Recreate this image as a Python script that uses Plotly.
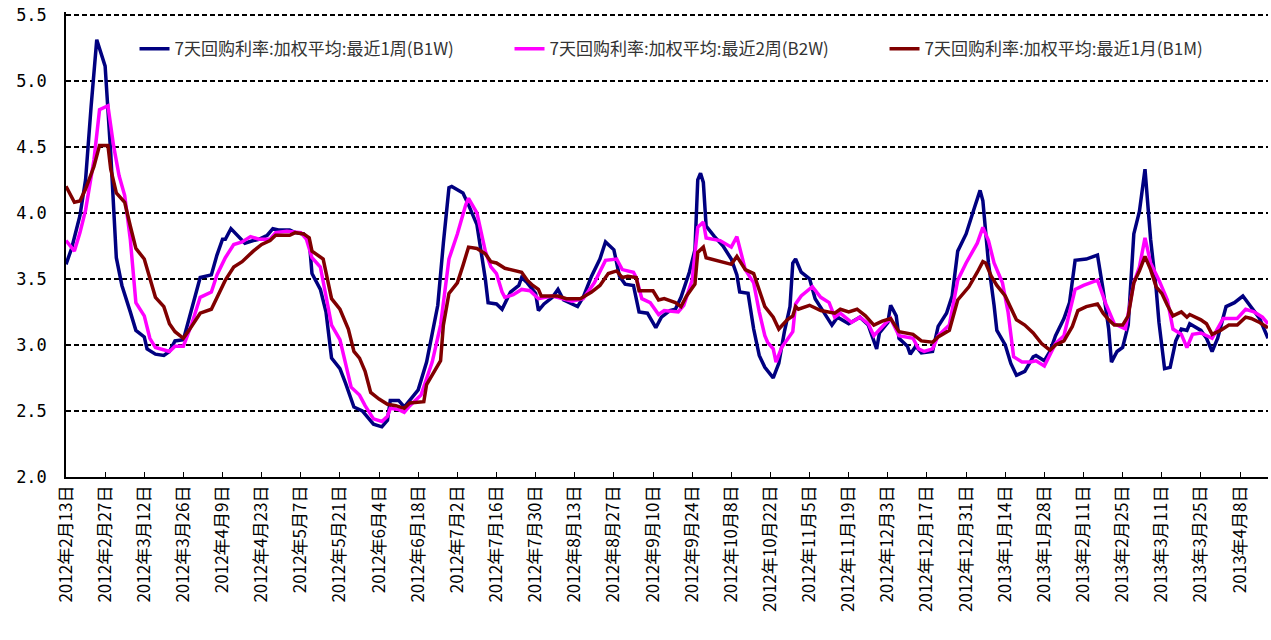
import plotly.graph_objs as go
import pandas as pd

start = pd.Timestamp("2012-02-13")

# days since 2012-02-13 / rate values
b1w_day = [0, 2, 5, 7, 9, 11, 14, 16, 18, 20, 23, 25, 28, 29, 32, 35, 37, 39, 42, 44, 46, 48,
           52, 54, 56, 57, 59, 62, 64, 67, 69, 72, 74, 76, 80, 82, 85, 87, 88, 91, 93, 95, 98,
           100, 103, 106, 110, 113, 115, 116, 119, 121, 123, 126, 129, 133, 135, 137, 138, 142,
           144, 147, 150, 151, 154, 156, 159, 162, 163, 165, 168, 169, 171, 174, 176, 178, 183,
           185, 188, 191, 193, 196, 198, 200, 203, 205, 208, 211, 213, 216, 218, 220, 223, 225,
           226, 227, 228, 229, 232, 235, 238, 240, 241, 244, 246, 248, 250, 253, 255, 257, 259,
           260, 261, 263, 266, 268, 271, 274, 276, 280, 284, 287, 290, 291, 294, 295, 297, 298,
           301, 302, 304, 306, 310, 312, 315, 317, 319, 322, 325, 327, 328, 330, 332, 333, 336,
           338, 340, 343, 346, 347, 350, 352, 354, 357, 359, 361, 365, 369, 371, 373, 374, 376,
           378, 380, 382, 384, 386, 388, 390, 391, 393, 395, 397, 399, 401, 402, 406, 408, 410,
           412, 415, 418, 421, 424, 427, 430]
b1w = [3.61, 3.73, 3.98, 4.25, 4.81, 5.31, 5.11, 4.45, 3.66, 3.45, 3.25, 3.11, 3.06, 2.97, 2.93,
       2.92, 2.95, 3.03, 3.04, 3.20, 3.35, 3.51, 3.53, 3.68, 3.80, 3.80, 3.88, 3.81, 3.77, 3.79,
       3.80, 3.83, 3.88, 3.87, 3.87, 3.85, 3.84, 3.79, 3.54, 3.42, 3.25, 2.90, 2.82, 2.71, 2.53,
       2.50, 2.40, 2.38, 2.43, 2.58, 2.58, 2.53, 2.58, 2.66, 2.87, 3.30, 3.77, 4.19, 4.20, 4.15,
       4.06, 3.91, 3.50, 3.32, 3.31, 3.27, 3.40, 3.45, 3.51, 3.47, 3.39, 3.26, 3.31, 3.36, 3.42,
       3.34, 3.29, 3.36, 3.52, 3.65, 3.78, 3.72, 3.52, 3.46, 3.45, 3.25, 3.24, 3.13, 3.21, 3.26,
       3.27, 3.36, 3.55, 3.72, 4.25, 4.30, 4.23, 3.90, 3.82, 3.75, 3.65, 3.53, 3.40, 3.39, 3.12,
       2.92, 2.83, 2.75, 2.86, 3.10, 3.29, 3.62, 3.65, 3.55, 3.50, 3.35, 3.25, 3.15, 3.21, 3.16,
       3.21, 3.15, 2.97, 3.09, 3.17, 3.30, 3.22, 3.05, 2.99, 2.93, 2.99, 2.94, 2.95, 3.14, 3.24,
       3.37, 3.71, 3.84, 4.04, 4.17, 4.09, 3.62, 3.30, 3.11, 3.00, 2.86, 2.77, 2.80, 2.91, 2.92,
       2.88, 2.95, 3.07, 3.20, 3.32, 3.64, 3.65, 3.68, 3.42, 3.12, 2.87, 2.95, 2.98, 3.15, 3.84,
       4.01, 4.33, 3.80, 3.42, 3.17, 2.82, 2.83, 3.03, 3.12, 3.11, 3.16, 3.11, 3.05, 2.95, 3.05,
       3.29, 3.32, 3.37, 3.29, 3.20, 3.05]

b2w_day = [0, 3, 5, 7, 10, 12, 15, 17, 19, 21, 23, 25, 28, 30, 32, 35, 37, 39, 42, 45, 48, 52,
           54, 57, 60, 63, 66, 69, 73, 75, 79, 84, 86, 88, 91, 93, 95, 98, 100, 102, 105, 107,
           110, 113, 115, 116, 119, 121, 123, 127, 131, 134, 137, 140, 143, 144, 147, 150, 152,
           154, 156, 157, 160, 163, 166, 169, 174, 178, 181, 185, 189, 193, 197, 199, 203, 204,
           206, 209, 212, 214, 219, 221, 224, 226, 228, 229, 234, 238, 240, 243, 246, 248, 250,
           251, 253, 254, 256, 260, 261, 263, 267, 270, 273, 275, 277, 281, 284, 287, 289, 293,
           295, 298, 303, 305, 307, 310, 312, 316, 319, 322, 326, 328, 330, 332, 335, 337, 339,
           342, 345, 347, 350, 354, 357, 361, 364, 369, 372, 375, 379, 382, 384, 386, 388, 391,
           394, 396, 399, 401, 403, 406, 408, 410, 414, 419, 422, 425, 428, 430]
b2w = [3.79, 3.71, 3.85, 4.02, 4.40, 4.78, 4.81, 4.51, 4.28, 4.13, 3.80, 3.32, 3.22, 3.05, 2.98,
       2.96, 2.95, 2.99, 2.99, 3.16, 3.36, 3.40, 3.53, 3.66, 3.76, 3.78, 3.82, 3.80, 3.80, 3.85,
       3.86, 3.85, 3.80, 3.66, 3.59, 3.37, 3.15, 3.04, 2.87, 2.68, 2.62, 2.54, 2.44, 2.42, 2.46,
       2.52, 2.51, 2.49, 2.54, 2.62, 2.87, 3.15, 3.65, 3.84, 4.06, 4.11, 4.00, 3.71, 3.59, 3.54,
       3.40, 3.36, 3.38, 3.42, 3.41, 3.35, 3.37, 3.35, 3.33, 3.35, 3.47, 3.64, 3.65, 3.57, 3.55,
       3.51, 3.35, 3.32, 3.23, 3.26, 3.25, 3.30, 3.49, 3.89, 3.93, 3.81, 3.79, 3.74, 3.82, 3.57,
       3.47, 3.25, 3.07, 3.02, 2.97, 2.87, 2.98, 3.10, 3.31, 3.37, 3.44, 3.36, 3.32, 3.21, 3.24,
       3.17, 3.21, 3.16, 3.07, 3.16, 3.20, 3.07, 3.05, 2.97, 2.95, 2.97, 3.07, 3.15, 3.49, 3.62,
       3.77, 3.89, 3.79, 3.62, 3.47, 3.25, 2.91, 2.87, 2.87, 2.88, 2.84, 3.01, 3.07, 3.42, 3.45,
       3.49, 3.31, 3.16, 3.12, 3.47, 3.59, 3.81, 3.62, 3.49, 3.34, 3.12, 3.08, 2.98, 3.08, 3.09,
       3.07, 3.05, 3.20, 3.20, 3.27, 3.25, 3.21, 3.16]

b1m_day = [0, 3, 5, 7, 10, 12, 15, 16, 18, 21, 23, 25, 28, 30, 32, 35, 37, 39, 42, 44, 48, 52,
           54, 57, 60, 63, 67, 70, 73, 75, 80, 82, 85, 87, 88, 92, 95, 98, 101, 103, 105, 107,
           109, 112, 115, 118, 121, 123, 128, 129, 134, 135, 137, 140, 142, 144, 147, 150, 152,
           154, 157, 161, 163, 165, 167, 169, 170, 176, 179, 184, 188, 191, 194, 197, 199, 201,
           204, 205, 210, 212, 214, 218, 220, 222, 225, 226, 228, 229, 238, 240, 243, 246, 248,
           250, 253, 255, 258, 260, 261, 262, 266, 270, 275, 277, 280, 283, 286, 289, 292, 295,
           298, 303, 306, 310, 312, 316, 319, 323, 326, 328, 329, 331, 333, 336, 340, 343, 346,
           349, 352, 354, 357, 360, 362, 365, 369, 371, 373, 375, 378, 380, 382, 384, 386, 388,
           390, 392, 394, 396, 399, 401, 402, 406, 408, 410, 413, 416, 419, 422, 424, 427, 430]
b1m = [4.20, 4.08, 4.09, 4.18, 4.35, 4.51, 4.51, 4.33, 4.15, 4.08, 3.90, 3.73, 3.65, 3.50, 3.36,
       3.29, 3.16, 3.10, 3.05, 3.11, 3.24, 3.27, 3.36, 3.49, 3.59, 3.63, 3.71, 3.76, 3.79, 3.83,
       3.83, 3.85, 3.84, 3.81, 3.71, 3.65, 3.35, 3.27, 3.12, 2.95, 2.90, 2.80, 2.64, 2.59, 2.55,
       2.54, 2.52, 2.56, 2.57, 2.70, 2.88, 3.15, 3.39, 3.47, 3.60, 3.74, 3.73, 3.69, 3.63, 3.62,
       3.58, 3.56, 3.55, 3.49, 3.45, 3.42, 3.37, 3.37, 3.35, 3.35, 3.40, 3.45, 3.54, 3.56, 3.51,
       3.52, 3.51, 3.41, 3.41, 3.34, 3.35, 3.32, 3.29, 3.37, 3.46, 3.70, 3.74, 3.66, 3.61, 3.67,
       3.57, 3.54, 3.42, 3.29, 3.21, 3.12, 3.19, 3.22, 3.29, 3.27, 3.30, 3.26, 3.24, 3.27, 3.25,
       3.27, 3.22, 3.15, 3.18, 3.20, 3.10, 3.08, 3.03, 3.02, 3.06, 3.11, 3.34, 3.44, 3.55, 3.63,
       3.62, 3.52, 3.45, 3.37, 3.19, 3.15, 3.09, 3.01, 2.96, 3.00, 3.03, 3.14, 3.26, 3.29, 3.31,
       3.24, 3.19, 3.15, 3.15, 3.22, 3.47, 3.56, 3.67, 3.57, 3.44, 3.39, 3.30, 3.22, 3.25, 3.21,
       3.23, 3.19, 3.16, 3.08, 3.11, 3.15, 3.15, 3.21, 3.20, 3.17, 3.13]

names = ["7天回购利率:加权平均:最近1周(B1W)",
         "7天回购利率:加权平均:最近2周(B2W)",
         "7天回购利率:加权平均:最近1月(B1M)"]
colors = ["#000080", "#ff00ff", "#800000"]

tick_dates = pd.date_range("2012-02-13", "2013-04-08", freq="14D")
tick_text = [f"{d.year}年{d.month}月{d.day}日" for d in tick_dates]


def to_dates(days):
    return start + pd.to_timedelta(days, unit="D")


fig = go.Figure()
for days, vals, name, color in zip([b1w_day, b2w_day, b1m_day], [b1w, b2w, b1m], names, colors):
    fig.add_trace(go.Scatter(x=to_dates(days), y=vals, mode="lines", name=name,
                             line=dict(color=color, width=3.5)))

fig.update_layout(
    width=1271, height=640,
    margin=dict(l=66, r=3, t=12, b=163),
    plot_bgcolor="white", paper_bgcolor="white",
    font=dict(family="Noto Sans CJK SC", color="black"),
    showlegend=True,
    legend=dict(orientation="h", x=0.057, y=0.92, xanchor="left", yanchor="middle",
                entrywidth=330, entrywidthmode="pixels",
                font=dict(family="Noto Sans CJK SC", size=17, color="#333333"),
                bgcolor="rgba(0,0,0,0)"),
)
fig.update_xaxes(
    type="date", range=[start, pd.Timestamp("2013-04-18")], automargin=False,
    tickmode="array", tickvals=tick_dates, ticktext=tick_text, tickangle=-90,
    tickfont=dict(family="Noto Sans CJK SC", size=17, color="black"),
    ticks="inside", ticklen=5, tickcolor="black",
    showline=True, linecolor="black", linewidth=1.5,
    showgrid=False, zeroline=False,
)
fig.update_yaxes(
    range=[2.0, 5.52], tickmode="linear", tick0=2.0, dtick=0.5, tickformat=".1f",
    automargin=False, ticklabeloverflow="allow",
    tickfont=dict(family="DejaVu Sans Mono", size=17, color="black"),
    ticklabelstandoff=14,
    showline=True, linecolor="black", linewidth=1.5,
    showgrid=True, gridcolor="black", gridwidth=2, griddash="5px,3px",
    zeroline=False, ticks="",
)

# drop the default 8px page margin so the figure sits at the window corner
fig.write_html("out.html", config={"displayModeBar": False},
               post_script="document.body.style.margin = '0';")
